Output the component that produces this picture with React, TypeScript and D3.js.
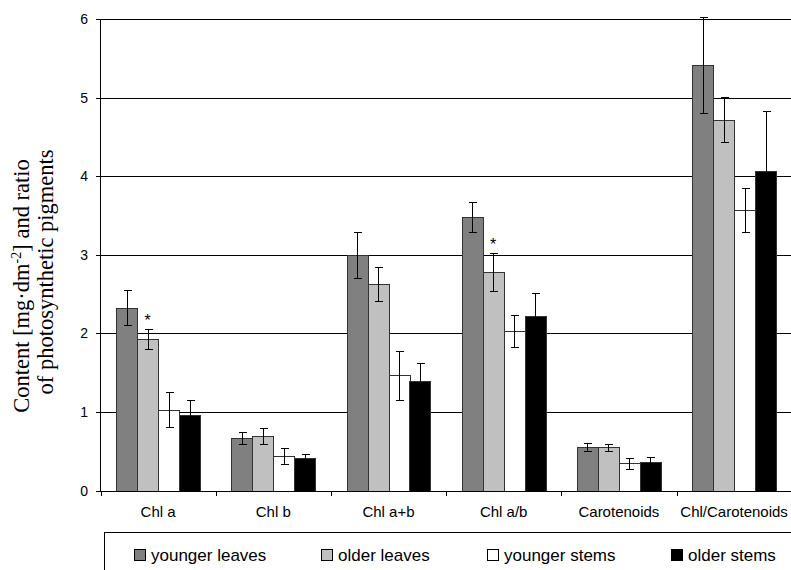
import React from "react";
import * as d3 from "d3";

const categories = ["Chl a", "Chl b", "Chl a+b", "Chl a/b", "Carotenoids", "Chl/Carotenoids"];
const seriesNames = ["younger leaves", "older leaves", "younger stems", "older stems"];
const seriesColors = ["#808080", "#c0c0c0", "#ffffff", "#000000"];

const youngerLeaves = [2.33, 0.67, 3.0, 3.48, 0.56, 5.41];
const olderLeaves = [1.93, 0.7, 2.63, 2.78, 0.55, 4.72];
const youngerStems = [1.03, 0.44, 1.47, 2.03, 0.35, 3.57];
const olderStems = [0.96, 0.42, 1.39, 2.22, 0.36, 4.07];

const youngerLeavesErr = [0.22, 0.08, 0.29, 0.19, 0.05, 0.61];
const olderLeavesErr = [0.13, 0.1, 0.22, 0.24, 0.05, 0.29];
const youngerStemsErr = [0.22, 0.1, 0.31, 0.2, 0.07, 0.28];
const olderStemsErr = [0.2, 0.05, 0.24, 0.29, 0.07, 0.76];

// significance markers: [category index, series index]
const asterisks: [number, number][] = [[0, 1], [3, 1]];

const yTicks = [0, 1, 2, 3, 4, 5, 6];

const values = [youngerLeaves, olderLeaves, youngerStems, olderStems];
const errors = [youngerLeavesErr, olderLeavesErr, youngerStemsErr, olderStemsErr];

export default function App() {
  const W = 791;
  const H = 570;
  const left = 100.5;
  const right = 791.7;
  const top = 19;
  const bottom = 490.7;

  const x = d3.scaleBand<string>().domain(categories).range([left, right]).paddingInner(0).paddingOuter(0);
  const xs = d3
    .scaleBand<string>()
    .domain(seriesNames)
    .range([0, x.bandwidth()])
    .paddingInner(0)
    .paddingOuter(0.743);
  const y = d3.scaleLinear().domain([0, 6]).range([bottom, top]);

  const sans = "'Liberation Sans', Arial, sans-serif";
  const serif = "'Liberation Serif', 'Times New Roman', serif";

  const legendX = [134, 321, 487, 671];

  return (
    <svg
      width={W}
      height={H}
      style={{ position: "absolute", left: 0, top: 0, background: "#fff" }}
      shapeRendering="crispEdges"
    >
      {/* gridlines */}
      {yTicks.filter((t) => t > 0).map((t) => (
        <line key={"g" + t} x1={left} x2={W} y1={Math.round(y(t)) + 0.5} y2={Math.round(y(t)) + 0.5} stroke="#000" strokeWidth={1} />
      ))}
      {/* y tick labels and ticks */}
      {yTicks.map((t) => (
        <g key={"t" + t}>
          <line x1={96} x2={left} y1={Math.round(y(t)) + 0.5} y2={Math.round(y(t)) + 0.5} stroke="#000" />
          <text x={88} y={y(t) + 5} textAnchor="end" fontFamily={sans} fontSize={14} fill="#000">
            {t}
          </text>
        </g>
      ))}
      {/* bars */}
      {categories.map((c, ci) =>
        seriesNames.map((s, si) => {
          const v = values[si][ci];
          const bx = (x(c) as number) + (xs(s) as number);
          const bw = xs.bandwidth();
          return (
            <rect
              key={c + s}
              x={Math.round(bx) + 0.5}
              y={Math.round(y(v)) + 0.5}
              width={Math.round(bw)}
              height={Math.round(y(0)) - Math.round(y(v))}
              fill={seriesColors[si]}
              stroke="#333"
              strokeWidth={1}
            />
          );
        })
      )}
      {/* error bars */}
      {categories.map((c, ci) =>
        seriesNames.map((s, si) => {
          const v = values[si][ci];
          const e = errors[si][ci];
          const cx = Math.round((x(c) as number) + (xs(s) as number) + xs.bandwidth() / 2) + 0.5;
          const y1 = Math.round(y(v + e)) + 0.5;
          const y2 = Math.round(y(v - e)) + 0.5;
          return (
            <g key={"e" + c + s} stroke="#000" strokeWidth={1}>
              <line x1={cx} x2={cx} y1={y1} y2={y2} />
              <line x1={cx - 4} x2={cx + 4} y1={y1} y2={y1} />
              <line x1={cx - 4} x2={cx + 4} y1={y2} y2={y2} />
            </g>
          );
        })
      )}
      {/* asterisks */}
      {asterisks.map(([ci, si]) => {
        const cx = (x(categories[ci]) as number) + (xs(seriesNames[si]) as number) + xs.bandwidth() / 2;
        const top = y(values[si][ci] + errors[si][ci]);
        return (
          <text key={"a" + ci} x={cx} y={top - 3} textAnchor="middle" fontFamily={sans} fontSize={16} fill="#000">
            *
          </text>
        );
      })}
      {/* y axis */}
      <line x1={left} x2={left} y1={top} y2={Math.round(bottom) + 0.5} stroke="#000" />
      {/* x axis */}
      <line x1={left} x2={W} y1={Math.round(bottom) + 0.5} y2={Math.round(bottom) + 0.5} stroke="#000" />
      {categories.map((c) => (
        <line key={"xt" + c} x1={Math.round(x(c) as number) + 0.5} x2={Math.round(x(c) as number) + 0.5} y1={bottom} y2={bottom + 5} stroke="#000" />
      ))}
      {categories.map((c) => (
        <text
          key={"xl" + c}
          x={(x(c) as number) + x.bandwidth() / 2}
          y={517}
          textAnchor="middle"
          fontFamily={sans}
          fontSize={15}
          fill="#000"
        >
          {c}
        </text>
      ))}
      {/* y axis title */}
      <text transform="translate(29,286) rotate(-90)" textAnchor="middle" fontFamily={serif} fontSize={22.5} fill="#000">
        Content [mg·dm
        <tspan dy={-8} fontSize={14}>-2</tspan>
        <tspan dy={8}>] and ratio</tspan>
      </text>
      <text transform="translate(53,272) rotate(-90)" textAnchor="middle" fontFamily={serif} fontSize={22.5} fill="#000">
        of photosynthetic pigments
      </text>
      {/* legend */}
      <rect x={104.5} y={532.5} width={W} height={H} fill="none" stroke="#000" />
      {seriesNames.map((s, si) => (
        <g key={"lg" + s}>
          <rect x={legendX[si] + 0.5} y={549.5} width={11} height={11} fill={seriesColors[si]} stroke="#000" />
          <text x={legendX[si] + 17} y={561} fontFamily={sans} fontSize={17} fill="#000">
            {s}
          </text>
        </g>
      ))}
    </svg>
  );
}
